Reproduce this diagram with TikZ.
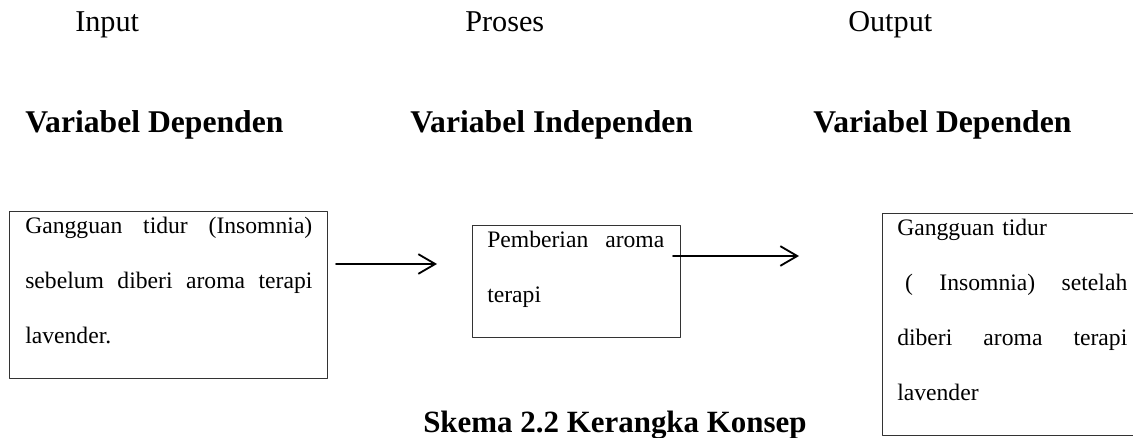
\documentclass[tikz,border=0pt]{standalone}
\usepackage{fontspec}
\setmainfont{Liberation Serif}
\usetikzlibrary{arrows.meta}
\begin{document}
\begin{tikzpicture}[x=0.025cm, y=-0.025cm, line join=round, line cap=round,
	>={Straight Barb[length=12pt,width=14pt]},
	kotak/.style={draw=black!80, line width=0.7pt, anchor=north west, inner sep=0pt},
	isi/.style={anchor=north west, inner sep=0pt, align=left, font=\fontsize{16.8pt}{39.1pt}\selectfont},
	judul/.style={anchor=base west, inner sep=0pt, font=\fontsize{22.5pt}{27pt}\selectfont\bfseries},
	tahap/.style={anchor=base west, inner sep=0pt, font=\fontsize{21.5pt}{26pt}\selectfont},
	panah/.style={->, line width=1.3pt}]
	\def\wa{7.175cm} \def\wb{4.425cm} \def\wc{5.75cm} % lebar teks
	\def\jb#1#2{\leavevmode\hbox to #1{#2}} % baris rata kiri-kanan
	\useasboundingbox (0,0) rectangle (1133,438);
	% tahap
	\node[tahap] (input) at (75,32) {Input};
	\node[tahap] (proses) at (465,32) {Proses};
	\node[tahap] (output) at (848,32) {Output};
	% variabel
	\node[judul] (var1) at (25,133) {Variabel Dependen};
	\node[judul] (var2) at (410,133) {Variabel Independen};
	\node[judul] (var3) at (813,133) {Variabel Dependen};
	% kotak
	\node[kotak, minimum width=7.95cm, minimum height=4.175cm] (kotak1) at (9,211) {};
	\node[kotak, minimum width=5.2cm, minimum height=2.8cm] (kotak2) at (472,225) {};
	\node[kotak, minimum width=6.4cm, minimum height=5.55cm] (kotak3) at (882,213) {};
	\node[isi, text width=\wa] (isi1) at (25,217)
		{\jb{\wa}{Gangguan\hfill tidur\hfill (Insomnia)}\\ \jb{\wa}{sebelum\hfill diberi\hfill aroma\hfill terapi}\\ lavender.};
	\node[isi, text width=\wb] (isi2) at (487,231)
		{\jb{\wb}{Pemberian\hfill aroma}\\ terapi};
	\node[isi, text width=\wc] (isi3) at (897,219)
		{Gangguan tidur\\ \jb{\wc}{\ (\hfill Insomnia)\hfill setelah}\\ \jb{\wc}{diberi\hfill aroma\hfill terapi}\\ lavender};
	% panah
	\coordinate (ujung1) at (437,264);
	\coordinate (ujung2) at (799,256);
	\draw[panah] ([xshift=0.2cm]kotak1.east |- ujung1) -- (ujung1);
	\draw[panah] ([xshift=-0.2cm]kotak2.east |- ujung2) -- (ujung2);
	\node[judul, font=\fontsize{22pt}{27pt}\selectfont\bfseries] (skema) at (423,433) {Skema 2.2 Kerangka Konsep};
\end{tikzpicture}
\end{document}
